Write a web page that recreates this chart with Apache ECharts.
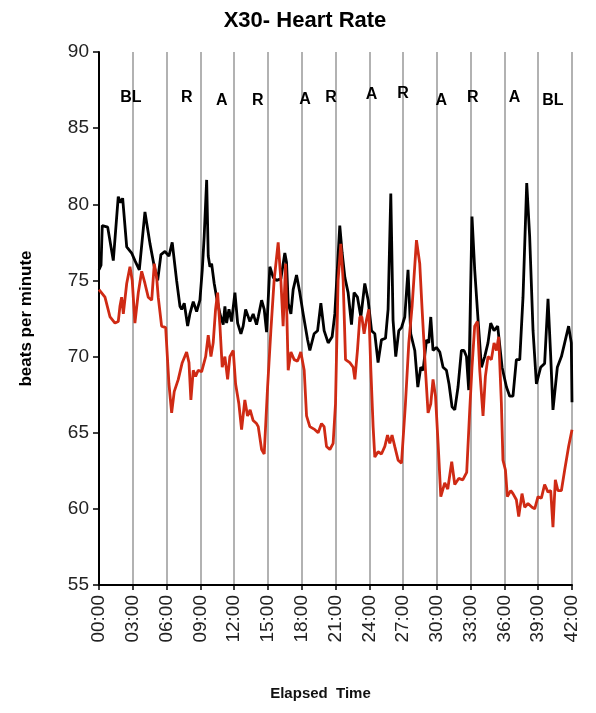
<!DOCTYPE html>
<html>
<head>
<meta charset="utf-8">
<script src="https://cdn.jsdelivr.net/npm/echarts@6/dist/echarts.min.js"></script>
<style>
    html, body { margin: 0; padding: 0; background: #fff; }
    #chart { width: 596px; height: 713px; }
</style>
</head>
<body>
<div id="chart"></div>
<script>
    // elapsed time in minutes, heart rate in bpm
    const blackTime = [0, 0.18, 0.29, 0.77, 1.27, 1.71, 1.93, 2.10, 2.46, 2.90, 3.19, 3.58, 4.08, 4.53, 4.91, 5.21, 5.50, 5.86, 6.21, 6.50,
        6.89, 7.19, 7.34, 7.57, 7.87, 8.07, 8.37, 8.67, 8.96, 9.17, 9.34, 9.56, 9.70, 9.85, 10.00, 10.23, 10.44, 10.74, 11.03, 11.18,
        11.33, 11.54, 11.77, 12.07, 12.31, 12.60, 12.80, 13.02, 13.40, 13.69, 13.99, 14.14, 14.44, 14.67, 14.88, 15.17, 15.47, 15.77, 16.15, 16.50,
        16.65, 16.80, 17.04, 17.24, 17.54, 17.83, 18.13, 18.52, 18.72, 19.10, 19.41, 19.70, 19.99, 20.35, 20.70, 20.94, 21.38, 21.59, 21.83, 22.12,
        22.42, 22.65, 22.95, 23.25, 23.60, 23.90, 24.20, 24.49, 24.78, 25.08, 25.44, 25.67, 25.91, 26.11, 26.35, 26.62, 26.86, 27.15, 27.44, 27.68,
        28.04, 28.31, 28.57, 28.78, 29.08, 29.28, 29.46, 29.66, 29.96, 30.26, 30.55, 30.85, 31.08, 31.35, 31.59, 31.88, 32.18, 32.41, 32.63, 32.83,
        33.12, 33.36, 33.66, 33.96, 34.25, 34.54, 34.78, 35.08, 35.40, 35.79, 36.18, 36.47, 36.76, 37.06, 37.36, 37.65, 37.98, 38.24, 38.54, 38.84,
        39.22, 39.57, 39.87, 40.11, 40.31, 40.70, 41.06, 41.35, 41.70, 41.94, 42.0];
    const blackHR = [75.7, 76.0, 78.6, 78.5, 76.3, 80.5, 80.1, 80.4, 77.2, 76.8, 76.3, 75.7, 79.5, 77.4, 75.9, 75.0, 76.7, 76.9, 76.6, 77.5,
        75.0, 73.3, 73.1, 73.5, 72.0, 72.8, 73.6, 72.95, 73.7, 75.7, 77.9, 81.6, 76.6, 75.9, 76.1, 74.8, 73.9, 72.8, 72.1, 73.3,
        72.2, 73.1, 72.3, 74.2, 72.2, 71.5, 72.0, 73.1, 72.3, 72.8, 72.1, 72.6, 73.7, 73.1, 71.6, 75.9, 75.2, 75.0, 75.1, 76.8,
        76.2, 73.5, 72.8, 74.4, 75.35, 74.2, 72.8, 71.1, 70.4, 71.5, 71.7, 73.5, 71.7, 70.9, 71.3, 72.8, 78.6, 76.8, 75.2, 74.2,
        72.1, 74.2, 73.9, 72.6, 74.8, 73.7, 71.7, 71.5, 69.6, 71.1, 71.2, 73.1, 80.7, 72.4, 70.0, 71.7, 71.9, 72.6, 75.7, 71.5,
        70.4, 68.0, 69.3, 69.1, 71.1, 70.9, 72.6, 70.4, 70.6, 70.3, 69.3, 69.1, 68.2, 66.7, 66.5, 68.0, 70.4, 70.4, 70.0, 67.8,
        79.2, 75.7, 72.4, 69.3, 70.0, 70.9, 72.2, 71.7, 72.0, 69.3, 68.0, 67.4, 67.4, 69.8, 69.8, 73.9, 81.4, 77.9, 71.7, 68.2,
        69.3, 69.55, 73.8, 70.0, 66.5, 69.3, 70.0, 70.9, 72.0, 70.9, 67.0];

    const redTime = [0, 0.53, 0.98, 1.42, 1.71, 1.86, 2.01, 2.16, 2.46, 2.75, 2.95, 3.19, 3.49, 3.79, 4.08, 4.37, 4.68, 4.91, 5.12, 5.26,
        5.56, 5.92, 6.21, 6.45, 6.68, 7.04, 7.39, 7.78, 7.99, 8.16, 8.37, 8.58, 8.81, 9.11, 9.47, 9.70, 9.94, 10.14, 10.35, 10.53,
        10.74, 10.94, 11.18, 11.42, 11.62, 11.92, 12.13, 12.42, 12.66, 12.95, 13.19, 13.42, 13.69, 13.99, 14.14, 14.44, 14.67, 14.97, 15.26, 15.55,
        15.91, 16.15, 16.35, 16.57, 16.80, 17.04, 17.33, 17.63, 17.92, 18.22, 18.43, 18.72, 19.17, 19.46, 19.76, 19.99, 20.20, 20.50, 20.79, 21.00,
        21.23, 21.47, 21.68, 21.89, 22.27, 22.57, 22.72, 22.95, 23.16, 23.34, 23.54, 23.75, 23.96, 24.13, 24.34, 24.49, 24.78, 25.08, 25.38, 25.62,
        25.82, 26.02, 26.26, 26.56, 26.86, 27.21, 27.51, 27.80, 28.19, 28.48, 28.69, 28.99, 29.22, 29.46, 29.66, 29.88, 30.11, 30.35, 30.70, 30.97,
        31.32, 31.59, 31.94, 32.30, 32.65, 32.92, 33.12, 33.36, 33.60, 33.81, 34.10, 34.31, 34.54, 34.84, 35.08, 35.29, 35.49, 35.73, 35.87, 36.09,
        36.26, 36.56, 36.76, 37.06, 37.27, 37.56, 37.80, 38.09, 38.45, 38.69, 38.98, 39.28, 39.57, 39.87, 40.11, 40.31, 40.52, 40.75, 41.06, 41.35,
        41.70, 42.0];
    const redHR = [74.4, 73.9, 72.6, 72.2, 72.3, 73.3, 73.9, 72.8, 74.8, 75.9, 75.0, 72.2, 74.2, 75.6, 74.8, 73.9, 73.7, 76.1, 75.2, 73.9,
        72.0, 71.9, 68.2, 66.3, 67.7, 68.5, 69.6, 70.3, 69.6, 67.15, 69.1, 68.7, 69.1, 69.0, 70.0, 71.4, 70.0, 70.9, 73.1, 74.2,
        72.0, 69.3, 70.0, 68.5, 70.0, 70.4, 68.2, 66.9, 65.2, 67.15, 66.1, 66.5, 65.8, 65.6, 65.4, 63.9, 63.6, 68.0, 71.7, 75.0,
        77.5, 75.0, 72.0, 76.1, 69.1, 70.3, 69.8, 69.7, 70.3, 69.1, 66.1, 65.4, 65.2, 65.0, 65.6, 65.4, 64.1, 63.9, 64.3, 66.9,
        75.0, 77.4, 75.0, 69.8, 69.6, 69.3, 68.5, 70.4, 72.6, 72.6, 71.5, 72.4, 73.1, 69.3, 65.4, 63.4, 63.75, 63.6, 64.1, 64.85,
        64.3, 64.85, 64.1, 63.2, 63.0, 66.9, 70.9, 73.3, 77.65, 76.1, 73.1, 69.1, 66.3, 66.9, 68.5, 67.4, 64.3, 60.8, 61.7, 61.3,
        63.1, 61.6, 62.0, 61.9, 62.4, 66.5, 69.3, 72.0, 72.3, 69.1, 66.1, 68.7, 70.0, 69.8, 70.9, 70.4, 71.3, 66.9, 63.2, 62.55,
        60.8, 61.2, 61.0, 60.6, 59.5, 61.0, 60.1, 60.35, 60.1, 60.0, 60.8, 60.7, 61.6, 61.1, 61.2, 58.8, 61.9, 61.2, 61.2, 62.55,
        64.1, 65.2];

    // condition markers above the lines
    const phaseNames = ['BL', 'R', 'A', 'R', 'A', 'R', 'A', 'R', 'A', 'R', 'A', 'BL'];
    const phaseTime = [2.84, 7.8, 10.9, 14.1, 18.3, 20.6, 24.2, 27.0, 30.4, 33.2, 36.9, 40.3];
    const phaseY = [87.0, 87.0, 86.8, 86.8, 86.9, 87.0, 87.2, 87.3, 86.8, 87.0, 87.0, 86.8];

    const pad = n => (n < 10 ? '0' : '') + n;
    const zip = (a, b) => a.map((v, i) => [v, b[i]]);

    const myChart = echarts.init(document.getElementById('chart'));
    const option = {
        backgroundColor: '#fff',
        animation: false,
        title: {
            text: 'X30- Heart Rate',
            left: 300,
            textAlign: 'center',
            top: 5,
            textStyle: { fontFamily: 'Liberation Sans, Arial', fontWeight: 'bold', fontSize: 22, color: '#000' }
        },
        grid: { left: 99, right: 24, top: 52, bottom: 128 },
        xAxis: {
            type: 'value',
            min: 0,
            max: 42,
            interval: 3,
            name: 'Elapsed  Time',
            nameLocation: 'middle',
            nameGap: 101,
            nameTextStyle: { fontFamily: 'Liberation Sans, Arial', fontWeight: 'bold', fontSize: 15, color: '#111', padding: [0, 30, 0, 0] },
            axisLine: { lineStyle: { color: '#000', width: 2 } },
            axisTick: { show: true, length: 5, lineStyle: { color: '#000', width: 1.5 } },
            axisLabel: {
                rotate: 90,
                margin: 10,
                fontFamily: 'Liberation Sans, Arial',
                fontSize: 19,
                color: '#222',
                formatter: v => pad(Math.round(v)) + ':00'
            },
            splitLine: { show: true, lineStyle: { color: '#999', width: 1.5 } }
        },
        yAxis: {
            type: 'value',
            min: 55,
            max: 90,
            interval: 5,
            name: 'beats per minute',
            nameLocation: 'middle',
            nameGap: 64,
            nameTextStyle: { fontFamily: 'Liberation Sans, Arial', fontWeight: 'bold', fontSize: 17, color: '#000' },
            axisLine: { show: true, lineStyle: { color: '#000', width: 2 } },
            axisTick: { show: true, length: 6, lineStyle: { color: '#000', width: 1.5 } },
            axisLabel: { fontFamily: 'Liberation Sans, Arial', fontSize: 19, color: '#222', margin: 10 },
            splitLine: { show: false }
        },
        series: [
            {
                name: 'black',
                type: 'line',
                data: zip(blackTime, blackHR),
                symbol: 'none',
                lineStyle: { color: '#000', width: 2.8 },
                z: 3
            },
            {
                name: 'red',
                type: 'line',
                data: zip(redTime, redHR),
                symbol: 'none',
                lineStyle: { color: '#cf2a14', width: 2.8 },
                z: 4
            },
            {
                name: 'phases',
                type: 'scatter',
                data: phaseTime.map((t, i) => ({ value: [t, phaseY[i]], name: phaseNames[i] })),
                symbolSize: 0,
                itemStyle: { opacity: 1 },
                label: {
                    show: true,
                    position: 'inside',
                    formatter: p => p.name,
                    fontFamily: 'Liberation Sans, Arial',
                    fontWeight: 'bold',
                    fontSize: 16,
                    color: '#000'
                },
                z: 5
            }
        ]
    };
    myChart.setOption(option);
</script>
</body>
</html>
